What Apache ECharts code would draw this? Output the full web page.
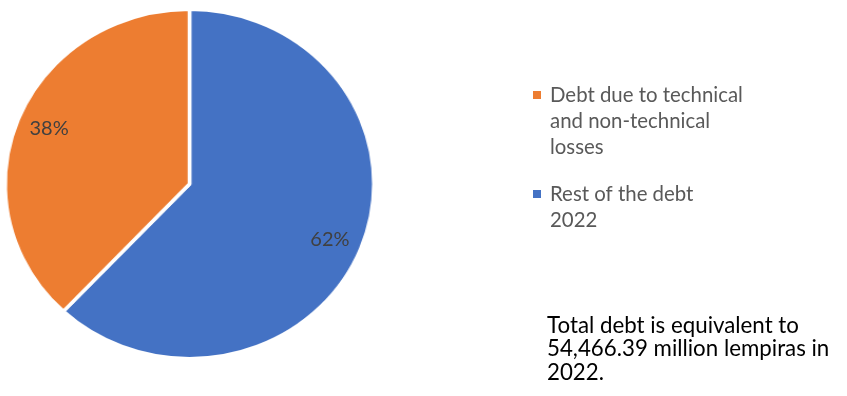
<!DOCTYPE html>
<html>
<head>
<meta charset="utf-8">
<script src="https://cdn.jsdelivr.net/npm/echarts@6/dist/echarts.min.js"></script>
<style>
  html, body { margin: 0; padding: 0; background: #fff; }
  #wrap { position: relative; width: 847px; height: 396px; overflow: hidden; }
  #pie, #main { position: absolute; left: 0; top: 0; width: 847px; height: 396px; }
  /* the pie is drawn slightly wider than tall */
  #pie { transform-origin: 189.5px 184px; transform: scaleX(1.055); }
</style>
</head>
<body>
<div id="wrap">
  <div id="pie"></div>
  <div id="main"></div>
</div>
<script>
// Share of the 2022 debt, in percent
const categories = ['Debt due to technical and non-technical losses', 'Rest of the debt 2022'];
const legendLines = [['Debt due to technical', 'and non-technical', 'losses'], ['Rest of the debt', '2022']];
const shares = [38, 62];
const colors = ['#ED7D31', '#4472C4'];
const totalDebtMillions = 54466.39;
const totalYear = 2022;

function formatThousands(v) {
  const parts = v.toFixed(2).split('.');
  parts[0] = parts[0].replace(/\B(?=(\d{3})+(?!\d))/g, ',');
  return parts.join('.');
}

// Drawing order: the larger slice starts at 12 o'clock and runs clockwise
const pieData = [
  { name: categories[1], value: shares[1], itemStyle: { color: colors[1] } },
  { name: categories[0], value: shares[0], itemStyle: { color: colors[0] } }
];

const FONT = 'Lato, "Open Sans", sans-serif';
const LINE_H = 26;
const CENTER = [189.5, 184];

// Legend text is centred on its marker, so leading blank lines keep
// the first line of each entry level with the square.
function legendFor(idx, top) {
  const lines = legendLines[idx];
  const pad = new Array(lines.length - 1).fill('');
  return {
    data: [{ name: categories[idx], itemStyle: { color: colors[idx] } }],
    orient: 'vertical',
    left: 533,
    top: top,
    padding: 0,
    itemGap: 0,
    itemWidth: 8,
    itemHeight: 8,
    icon: 'rect',
    selectedMode: false,
    formatter: () => pad.concat(lines).join('\n'),
    textStyle: {
      fontFamily: FONT,
      fontSize: 20.4,
      color: '#595959',
      lineHeight: LINE_H,
      padding: [0, 0, 0, 4]
    }
  };
}

const pieChart = echarts.init(document.getElementById('pie'), null, { renderer: 'canvas' });
pieChart.setOption({
  animation: false,
  series: [{
    type: 'pie',
    center: CENTER,
    radius: [0, 174.75],
    startAngle: 90,
    clockwise: true,
    silent: true,
    label: { show: false },
    labelLine: { show: false },
    itemStyle: { borderColor: '#ffffff', borderWidth: 3.5 },
    emphasis: { disabled: true },
    data: pieData
  }]
});

const mainChart = echarts.init(document.getElementById('main'), null, { renderer: 'canvas' });
mainChart.setOption({
  backgroundColor: 'transparent',
  animation: false,
  title: {
    text: 'Total debt is equivalent to\n' + formatThousands(totalDebtMillions) + ' million lempiras in\n' + totalYear + '.',
    left: 547,
    top: 314,
    padding: 0,
    textStyle: {
      fontFamily: FONT,
      fontSize: 22.3,
      fontWeight: 'normal',
      color: '#000000',
      lineHeight: 23.5
    }
  },
  legend: [legendFor(0, 30), legendFor(1, 155)],
  series: [{
    // transparent ring that only carries the percentage labels
    type: 'pie',
    center: CENTER,
    radius: [118, 178],
    startAngle: 90,
    clockwise: true,
    silent: true,
    legendHoverLink: false,
    itemStyle: { color: 'rgba(0,0,0,0)', borderWidth: 0 },
    emphasis: { disabled: true },
    label: {
      show: true,
      position: 'inside',
      formatter: '{d}%',
      fontFamily: FONT,
      fontSize: 20,
      color: '#404040'
    },
    labelLine: { show: false },
    data: pieData.map(d => ({ name: d.name, value: d.value, itemStyle: { color: 'rgba(0,0,0,0)' } }))
  }]
});
</script>
</body>
</html>
